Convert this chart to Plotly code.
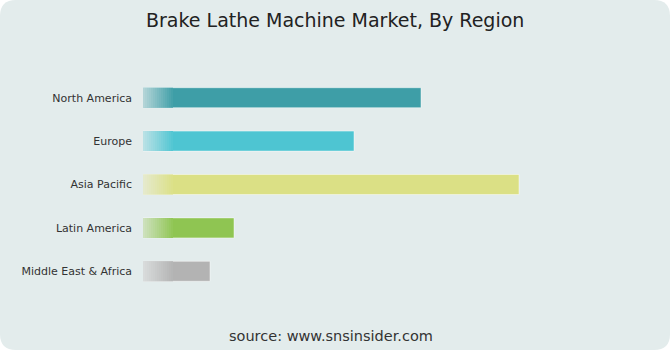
import plotly.graph_objects as go

# ---- data ----
regions = ["North America", "Europe", "Asia Pacific", "Latin America", "Middle East & Africa"]
values = [278, 211, 376, 91, 67]
colors = ["#3e9ea7", "#4ec5d2", "#dbe085", "#8fc552", "#b3b3b3"]

# ---- layout constants ----
W, H = 670, 350
ML, MR, MT, MB = 143, 27, 76, 57
PW = W - ML - MR
PH = H - MT - MB
BG = "#e3ecec"
FADE_LEN = 30
FADE_STEPS = 15
FADE_TO = (234, 238, 238)
FADE_AMT = 0.68


def hex2rgb(h):
    h = h.lstrip("#")
    return tuple(int(h[i:i + 2], 16) for i in (0, 2, 4))


def mix(c, t):
    r = hex2rgb(c)
    m = [round(r[i] * (1 - t) + FADE_TO[i] * t) for i in range(3)]
    return "rgb(%d,%d,%d)" % tuple(m)


fig = go.Figure()

fig.add_trace(go.Bar(
    y=regions, x=values, orientation="h",
    marker=dict(color=colors, line=dict(color="rgba(255,255,255,0.45)", width=1)),
    hoverinfo="skip", showlegend=False,
))

# left-edge fade overlay
step = FADE_LEN / FADE_STEPS
for k in range(FADE_STEPS):
    t = FADE_AMT * (1 - k / FADE_STEPS)
    fig.add_trace(go.Bar(
        y=regions, x=[min(step, v - k * step) for v in values],
        base=[k * step for _ in values], orientation="h",
        marker=dict(color=[mix(c, t) for c in colors], line=dict(width=0)),
        hoverinfo="skip", showlegend=False,
    ))


def px_x(p):
    return (p - ML) / PW


def px_y(p):
    return 1 - (p - MT) / PH


# rounded card background
R = 16
x0, x1, y0, y1 = 0, W, 0, H
path = (
    f"M {px_x(x0 + R)},{px_y(y0)} L {px_x(x1 - R)},{px_y(y0)} "
    f"Q {px_x(x1)},{px_y(y0)} {px_x(x1)},{px_y(y0 + R)} "
    f"L {px_x(x1)},{px_y(y1 - R)} "
    f"Q {px_x(x1)},{px_y(y1)} {px_x(x1 - R)},{px_y(y1)} "
    f"L {px_x(x0 + R)},{px_y(y1)} "
    f"Q {px_x(x0)},{px_y(y1)} {px_x(x0)},{px_y(y1 - R)} "
    f"L {px_x(x0)},{px_y(y0 + R)} "
    f"Q {px_x(x0)},{px_y(y0)} {px_x(x0 + R)},{px_y(y0)} Z"
)
fig.add_shape(type="path", path=path, xref="paper", yref="paper",
              fillcolor=BG, line=dict(width=0), layer="below")

fig.add_annotation(text="Brake Lathe Machine Market, By Region",
                   xref="paper", yref="paper", x=px_x(335), y=px_y(20),
                   xanchor="center", yanchor="middle", showarrow=False,
                   font=dict(family="DejaVu Sans", size=19, color="#222222"))
fig.add_annotation(text="source: www.snsinsider.com",
                   xref="paper", yref="paper", x=px_x(331), y=px_y(336),
                   xanchor="center", yanchor="middle", showarrow=False,
                   font=dict(family="DejaVu Sans", size=14.5, color="#333333"))

fig.update_layout(
    width=W, height=H,
    margin=dict(l=ML, r=MR, t=MT, b=MB, pad=0),
    paper_bgcolor="white", plot_bgcolor="rgba(0,0,0,0)",
    barmode="overlay", bargap=0.54,
    font=dict(family="DejaVu Sans", size=11, color="#333333"),
    xaxis=dict(range=[0, PW], visible=False, fixedrange=True),
    yaxis=dict(autorange="reversed", showgrid=False, zeroline=False,
               showline=False, ticks="", ticklabelstandoff=10,
               tickfont=dict(family="DejaVu Sans", size=11, color="#333333"),
               fixedrange=True),
)

fig.write_html("out.html", config={"displayModeBar": False})
